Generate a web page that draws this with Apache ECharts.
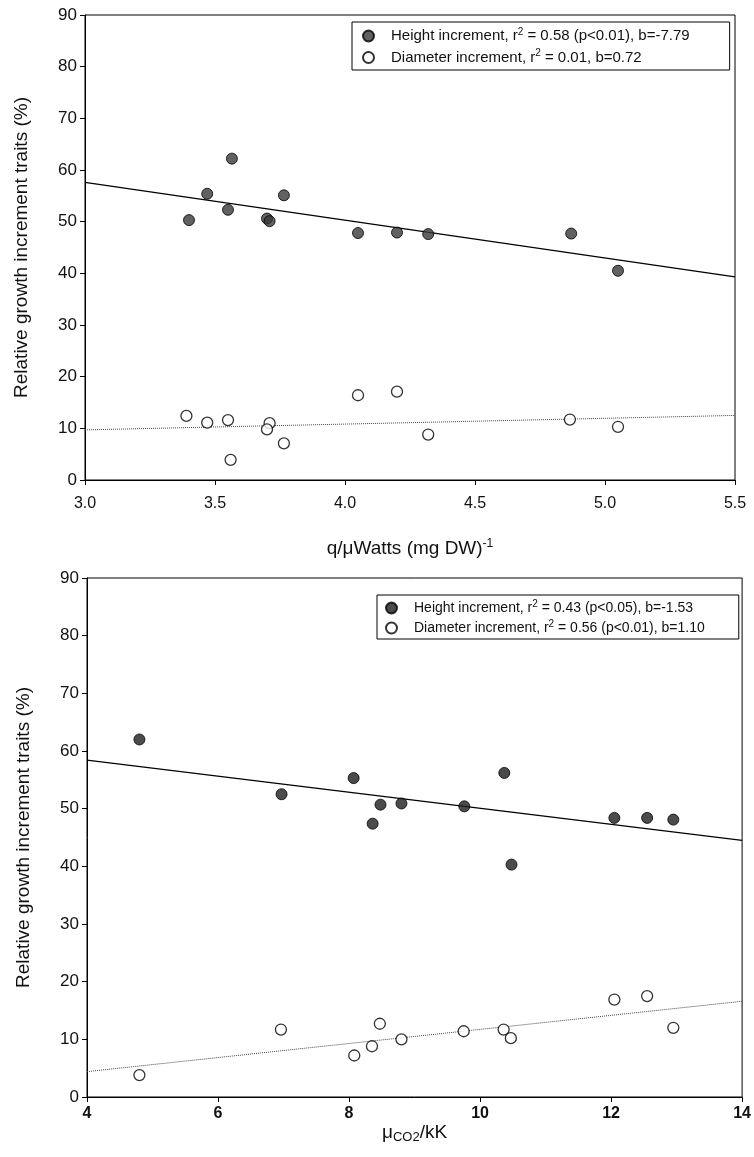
<!DOCTYPE html>
<html>
<head>
<meta charset="utf-8">
<script src="https://cdn.jsdelivr.net/npm/echarts@6/dist/echarts.min.js"></script>
<style>
  html, body { margin: 0; padding: 0; background: #fff; }
  #chart { width: 754px; height: 1157px; }
</style>
</head>
<body>
<div id="chart"></div>
<script>
// top panel: q/uWatts
const qX = [3.40, 3.47, 3.565, 3.55, 3.70, 3.71, 3.765, 4.05, 4.20, 4.32, 4.87, 5.05];
const qHeight = [50.3, 55.4, 62.2, 52.3, 50.6, 50.1, 55.1, 47.8, 47.9, 47.6, 47.7, 40.5];
const qDiamX = [3.39, 3.47, 3.55, 3.71, 3.70, 3.765, 3.56, 4.05, 4.20, 4.32, 4.865, 5.05];
const qDiam = [12.4, 11.1, 11.6, 11.0, 9.8, 7.1, 3.9, 16.4, 17.1, 8.8, 11.7, 10.3];
const qHeightFit = [[3.0, 57.6], [5.5, 39.3]];
const qDiamFit = [[3.0, 9.7], [5.5, 12.5]];

// bottom panel: uCO2/kK
const cX = [4.8, 6.97, 8.07, 8.48, 8.36, 8.80, 9.76, 10.37, 10.48, 12.05, 12.55, 12.95];
const cHeight = [62.0, 52.5, 55.3, 50.7, 47.4, 50.9, 50.4, 56.2, 40.3, 48.4, 48.4, 48.1];
const cDiamX = [4.8, 6.96, 8.08, 8.35, 8.47, 8.80, 9.75, 10.36, 10.47, 12.05, 12.55, 12.95];
const cDiam = [3.8, 11.7, 7.2, 8.8, 12.7, 10.0, 11.4, 11.7, 10.2, 16.9, 17.5, 12.0];
const cHeightFit = [[4, 58.4], [14, 44.5]];
const cDiamFit = [[4, 4.4], [14, 16.6]];

const yTicks = { min: 0, max: 90, interval: 10 };

function pairs(xs, ys) {
  return xs.map((x, i) => [x, ys[i]]);
}

var font = "Liberation Sans, Arial, sans-serif";
var filled = { color: "#3a3a3a", borderColor: "#000", borderWidth: 1 };
var open = { color: "#fff", borderColor: "#000", borderWidth: 1.3 };

function yAxis(gridIndex) {
  return {
    type: "value",
    gridIndex: gridIndex,
    min: yTicks.min,
    max: yTicks.max,
    interval: yTicks.interval,
    name: "Relative growth increment traits (%)",
    nameLocation: "middle",
    nameGap: 54,
    nameTextStyle: { fontFamily: font, fontSize: 19, color: "#111" },
    axisLine: { show: true, lineStyle: { color: "#000", width: 1 } },
    axisTick: { show: true, length: 5, lineStyle: { color: "#000" } },
    axisLabel: { fontFamily: font, fontSize: 17, color: "#111", margin: 8 },
    splitLine: { show: false }
  };
}

var legendRich = {
  sup: { fontFamily: font, fontSize: 10, color: "#111", verticalAlign: "top", padding: [0, 0, 8, 0] }
};

var myChart = echarts.init(document.getElementById("chart"));
myChart.setOption({
  animation: false,
  grid: [
    { left: 85, top: 15, width: 650, height: 465, show: true, borderColor: "#000", borderWidth: 1 },
    { left: 87, top: 578, width: 656, height: 519, show: true, borderColor: "#000", borderWidth: 1 }
  ],
  xAxis: [
    {
      type: "value",
      gridIndex: 0,
      min: 3,
      max: 5.5,
      interval: 0.5,
      name: "q/μWatts (mg DW){sup|-1}",
      nameLocation: "middle",
      nameGap: 58,
      nameTextStyle: {
        fontFamily: font, fontSize: 19, color: "#111",
        rich: { sup: { fontFamily: font, fontSize: 12, color: "#111", padding: [0, 0, 10, 0] } }
      },
      axisLine: { lineStyle: { color: "#000" } },
      axisTick: { length: 5, lineStyle: { color: "#000" } },
      axisLabel: { fontFamily: font, fontSize: 16, color: "#111", margin: 16, formatter: v => v.toFixed(1) },
      splitLine: { show: false }
    },
    {
      type: "value",
      gridIndex: 1,
      min: 4,
      max: 14,
      interval: 2,
      name: "μ{sub|CO2}/kK",
      nameLocation: "middle",
      nameGap: 24,
      nameTextStyle: {
        fontFamily: font, fontSize: 19, color: "#111",
        rich: { sub: { fontFamily: font, fontSize: 13, color: "#111", padding: [10, 0, 0, 0] } }
      },
      axisLine: { lineStyle: { color: "#000" } },
      axisTick: { length: 5, lineStyle: { color: "#000" } },
      axisLabel: { fontFamily: font, fontSize: 16, fontWeight: "bold", color: "#111", margin: 9 },
      splitLine: { show: false }
    }
  ],
  yAxis: [yAxis(0), yAxis(1)],
  legend: [
    {
      left: 352,
      top: 22,
      width: 380,
      orient: "vertical",
      data: ["Height increment q", "Diameter increment q"],
      borderColor: "#000",
      borderWidth: 1,
      padding: [5, 40, 5, 10],
      itemGap: 5,
      itemWidth: 11,
      itemHeight: 11,
      textStyle: { fontFamily: font, fontSize: 15, color: "#111", padding: [0, 0, 0, 12], rich: legendRich },
      formatter: function (name) {
        if (name === "Height increment q") return "Height increment, r{sup|2} = 0.58 (p<0.01), b=-7.79";
        return "Diameter increment, r{sup|2} = 0.01, b=0.72";
      }
    },
    {
      left: 377,
      top: 595,
      width: 360,
      orient: "vertical",
      data: ["Height increment c", "Diameter increment c"],
      borderColor: "#000",
      borderWidth: 1,
      padding: [4, 34, 4, 8],
      itemGap: 4,
      itemWidth: 11,
      itemHeight: 11,
      textStyle: { fontFamily: font, fontSize: 14, color: "#111", padding: [0, 0, 0, 12], rich: legendRich },
      formatter: function (name) {
        if (name === "Height increment c") return "Height increment, r{sup|2} = 0.43 (p<0.05), b=-1.53";
        return "Diameter increment, r{sup|2} = 0.56 (p<0.01), b=1.10";
      }
    }
  ],
  series: [
    {
      name: "Height increment q", type: "scatter", xAxisIndex: 0, yAxisIndex: 0,
      symbol: "circle", symbolSize: 11, itemStyle: filled, data: pairs(qX, qHeight), z: 5
    },
    {
      name: "Diameter increment q", type: "scatter", xAxisIndex: 0, yAxisIndex: 0,
      symbol: "circle", symbolSize: 11, itemStyle: open, data: pairs(qDiamX, qDiam), z: 5
    },
    {
      name: "fit h q", type: "line", xAxisIndex: 0, yAxisIndex: 0, showSymbol: false,
      lineStyle: { color: "#000", width: 1.3 }, data: qHeightFit
    },
    {
      name: "fit d q", type: "line", xAxisIndex: 0, yAxisIndex: 0, showSymbol: false,
      lineStyle: { color: "#444", width: 1, type: "dotted" }, data: qDiamFit
    },
    {
      name: "Height increment c", type: "scatter", xAxisIndex: 1, yAxisIndex: 1,
      symbol: "circle", symbolSize: 11, itemStyle: { color: "#1e1e1e", borderColor: "#000", borderWidth: 1 },
      data: pairs(cX, cHeight), z: 5
    },
    {
      name: "Diameter increment c", type: "scatter", xAxisIndex: 1, yAxisIndex: 1,
      symbol: "circle", symbolSize: 11, itemStyle: open, data: pairs(cDiamX, cDiam), z: 5
    },
    {
      name: "fit h c", type: "line", xAxisIndex: 1, yAxisIndex: 1, showSymbol: false,
      lineStyle: { color: "#000", width: 1.3 }, data: cHeightFit
    },
    {
      name: "fit d c", type: "line", xAxisIndex: 1, yAxisIndex: 1, showSymbol: false,
      lineStyle: { color: "#444", width: 1, type: "dotted" }, data: cDiamFit
    }
  ]
});
window.addEventListener("resize", function () {
  myChart.resize();
});
</script>
</body>
</html>
